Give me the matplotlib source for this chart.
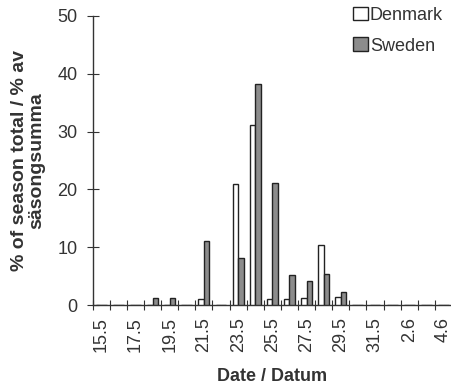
import matplotlib
matplotlib.use("Agg")
import matplotlib.pyplot as plt
import numpy as np

plt.rcParams['font.family'] = ['Liberation Sans', 'DejaVu Sans']

# Daily categories (day.month)
dates = ["15.5", "16.5", "17.5", "18.5", "19.5", "20.5", "21.5", "22.5", "23.5",
         "24.5", "25.5", "26.5", "27.5", "28.5", "29.5", "30.5", "31.5",
         "1.6", "2.6", "3.6", "4.6"]
denmark = [0, 0, 0, 0, 0, 0, 1.0, 0, 21.0, 31.2, 1.0, 1.1, 1.2, 10.3, 1.3,
           0, 0, 0, 0, 0, 0]
sweden = [0, 0, 0, 1.2, 1.2, 0, 11.0, 0, 8.2, 38.2, 21.1, 5.2, 4.2, 5.3, 2.3,
          0, 0, 0, 0, 0, 0]
yticks = [0, 10, 20, 30, 40, 50]

W, H = 452, 385
fig = plt.figure(figsize=(W / 100, H / 100), dpi=100)
left = 92.7 / W
bottom = (H - 305) / H
top = (H - 16) / H
ax = fig.add_axes([left, bottom, 1 - left, top - bottom])

x = np.arange(len(dates)) + 0.5
bw = 0.32
ax.bar(x - bw / 2, denmark, width=bw, color="white", edgecolor="#222222",
       linewidth=1.0, label="Denmark", zorder=3)
ax.bar(x + bw / 2, sweden, width=bw, color="#8c8c8c", edgecolor="#222222",
       linewidth=1.0, label="Sweden", zorder=3)

ax.set_xlim(0, (W - 92.7) / 17.3)
ax.set_ylim(0, 50)

for s in ["top", "right"]:
    ax.spines[s].set_visible(False)
for s in ["left", "bottom"]:
    ax.spines[s].set_color("#333333")
    ax.spines[s].set_linewidth(1.0)

ax.set_yticks(yticks)
ax.set_yticklabels([str(v) for v in yticks], fontsize=13, color="#333333")
ax.tick_params(axis="y", direction="inout", length=8, width=0.8,
               colors="#333333", pad=7)

# labels at every other day centre, small ticks at the day boundaries
ax.set_xticks(x[::2])
ax.set_xticklabels(dates[::2], rotation=90, fontsize=13, color="#333333")
ax.tick_params(axis="x", which="major", length=0, pad=9)
ax.set_xticks(np.arange(0, len(dates) + 1), minor=True)
ax.tick_params(axis="x", which="minor", direction="inout", length=7,
               width=0.8, colors="#333333")

ax.set_xlabel("Date / Datum", fontsize=13, fontweight="bold",
              color="#333333", labelpad=11)
ax.set_ylabel("% of season total / % av\nsäsongsumma", fontsize=14,
              fontweight="bold", color="#333333", labelpad=9,
              linespacing=1.0)

leg = ax.legend(loc="upper right", bbox_to_anchor=(1.005, 1.07), frameon=False,
                fontsize=13, handlelength=0.8, handleheight=0.8,
                handletextpad=0.12, labelspacing=0.75, borderaxespad=0.2)
for t in leg.get_texts():
    t.set_color("#333333")

fig.savefig("out.png", dpi=100)
